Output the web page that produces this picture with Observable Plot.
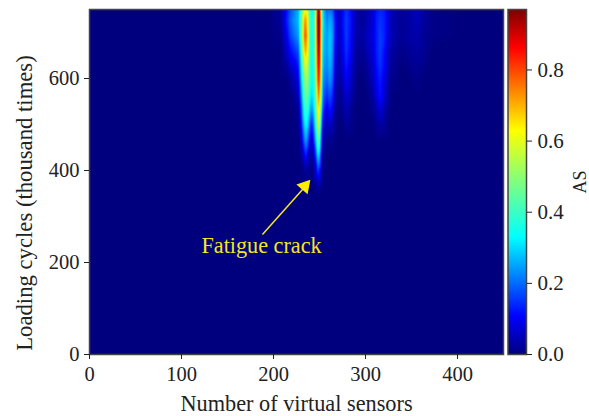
<!DOCTYPE html>
<html><head><meta charset="utf-8">
<script src="https://cdn.jsdelivr.net/npm/d3@7"></script>
<script src="https://cdn.jsdelivr.net/npm/@observablehq/plot@0.6"></script>
<style>
html,body{margin:0;padding:0;background:#fff}
#c{position:relative;width:589px;height:416px;overflow:hidden}
#c svg{position:absolute;left:0;top:0;background:transparent}
</style></head><body><div id="c"></div>
<script>
const sensors=[208,214,218,223,227,230,233,235,237,239,241,243,246,248,250,252,254,258,261,264,267,271,275,279,284,288,292,297,301,308,312,316,321,325,329,338,349,355,362,371];
const as750=[.02,.11,.17,.22,.26,.40,.58,.62,.55,.42,.33,.35,.50,.93,.93,.55,.28,.19,.21,.19,.10,.05,.10,.15,.11,.05,.03,.02,.03,.07,.12,.14,.12,.07,.04,.02,.03,.05,.03,.01];
const as726=[.02,.12,.19,.24,.27,.43,.68,.74,.62,.46,.35,.36,.55,.97,.97,.60,.30,.22,.26,.23,.12,.05,.11,.16,.12,.05,.03,.02,.04,.07,.13,.15,.13,.07,.04,.02,.03,.05,.03,.01];
const as693=[.01,.09,.16,.21,.24,.43,.72,.80,.66,.46,.34,.36,.55,.95,.96,.58,.29,.24,.29,.25,.12,.05,.10,.16,.11,.05,.03,.03,.05,.08,.13,.16,.13,.07,.04,.02,.03,.04,.02,.01];
const as661=[0,.06,.11,.15,.18,.38,.64,.72,.62,.46,.34,.36,.54,.90,.92,.56,.28,.24,.29,.24,.10,.04,.09,.15,.10,.04,.02,.02,.04,.07,.13,.16,.11,.05,.03,.01,.02,.03,.02,0];
const as628=[0,.02,.06,.09,.13,.32,.54,.60,.55,.44,.33,.35,.52,.85,.87,.54,.26,.22,.27,.22,.08,.03,.07,.13,.08,.03,.01,.01,.02,.06,.12,.15,.10,.04,.02,0,.01,.02,.01,0];
const as596=[0,0,.02,.05,.08,.27,.46,.52,.50,.42,.33,.34,.50,.80,.82,.50,.23,.19,.24,.19,.06,.02,.05,.10,.06,.02,0,0,.01,.05,.10,.13,.08,.03,.01,0,0,.01,0,0];
const as563=[0,0,0,.02,.05,.21,.40,.46,.44,.38,.30,.32,.46,.72,.74,.44,.19,.14,.18,.14,.04,.01,.03,.07,.04,.01,0,0,0,.03,.08,.12,.06,.02,0,0,0,0,0,0];
const as530=[0,0,0,0,.02,.15,.34,.40,.38,.30,.22,.26,.42,.62,.64,.36,.13,.08,.12,.09,.02,0,.02,.04,.02,0,0,0,0,.01,.04,.07,.03,.01,0,0,0,0,0,0];
const as498=[0,0,0,0,.01,.10,.27,.33,.30,.20,.12,.18,.36,.55,.55,.26,.07,.04,.06,.04,.01,0,0,.02,.01,0,0,0,0,0,.02,.03,.02,0,0,0,0,0,0,0];
const as465=[0,0,0,0,0,.05,.18,.25,.20,.10,.05,.10,.28,.42,.42,.17,.03,.01,.02,.01,0,0,0,0,0,0,0,0,0,0,0,0,0,0,0,0,0,0,0,0];
const as433=[0,0,0,0,0,.02,.08,.13,.09,.03,.01,.04,.16,.30,.28,.08,.01,0,0,0,0,0,0,0,0,0,0,0,0,0,0,0,0,0,0,0,0,0,0,0];
const as400=[0,0,0,0,0,0,.01,.03,.02,.01,0,.01,.07,.15,.13,.03,0,0,0,0,0,0,0,0,0,0,0,0,0,0,0,0,0,0,0,0,0,0,0,0];
const as367=[0,0,0,0,0,0,0,0,0,0,0,0,.01,.03,.03,.01,0,0,0,0,0,0,0,0,0,0,0,0,0,0,0,0,0,0,0,0,0,0,0,0];
const as345=sensors.map(()=>0);
const as0=sensors.map(()=>0);
const cycles=[750,726,693,661,628,596,563,530,498,465,433,400,367,345,0];
const rows=[as750,as726,as693,as661,as628,as596,as563,as530,as498,as465,as433,as400,as367,as345,as0];
const jetDomain=[0,.107,.33,.485,.63,.863,.97];
const jetRange=["#00007f","#0000ff","#00ffff","#7fff7f","#ffff00","#ff0000","#7f0000"];
const xTicks=[0,100,200,300,400];
const yTicks=[0,200,400,600];
const cTicks=[0,.2,.4,.6,.8];
const arrowLine=[{x1:188,y1:261,x2:234,y2:364}];
const arrowHead=[{x:234,y:366}];
const note=[{x:187,y:237,t:"Fatigue crack"}];

const table=[];
for(const [j,c] of cycles.entries()){
  for(const [i,s] of sensors.entries()) table.push({s,c,v:rows[j][i]});
  table.push({s:0,c,v:0},{s:195,c,v:0},{s:400,c,v:0},{s:450,c,v:0});
}
const font='"Liberation Serif","Times New Roman",serif';
const colorScale={type:"linear",domain:jetDomain,range:jetRange,interpolate:"rgb",clamp:true};
const ink="#222";
const main=Plot.plot({
  width:589,height:416,marginLeft:89,marginRight:86,marginTop:9,marginBottom:62,
  style:{fontFamily:font,background:"transparent",color:ink},
  x:{domain:[0,450]},y:{domain:[0,750]},color:colorScale,
  marks:[
    Plot.frame({fill:"#00007f"}),
    Plot.raster(table,{x:"s",y:"c",fill:"v",interpolate:"barycentric",x1:0,x2:450,y1:0,y2:750,pixelSize:1}),
    Plot.link(arrowLine,{x1:"x1",y1:"y1",x2:"x2",y2:"y2",stroke:"#f7e81a",strokeWidth:1.5}),
    Plot.dot(arrowHead,{x:"x",y:"y",symbol:"triangle",r:5.5,fill:"#ffee00",rotate:41}),
    Plot.text(note,{x:"x",y:"y",text:"t",fill:"#f5e71c",fontSize:22.2}),
    Plot.frame({stroke:"#444",strokeWidth:1.5}),
    Plot.axisX({ticks:xTicks,tickSize:5,tickPadding:7,fontSize:20.5,label:null,stroke:ink}),
    Plot.axisY({ticks:yTicks,tickSize:5,tickPadding:5,fontSize:20.5,label:null,stroke:ink}),
    Plot.text(["Number of virtual sensors"],{frameAnchor:"bottom",dy:49,lineAnchor:"middle",textAnchor:"middle",fontSize:22.3,fill:ink}),
    Plot.text(["Loading cycles (thousand times)"],{frameAnchor:"left",dx:-65,dy:21,rotate:-90,textAnchor:"middle",fontSize:22.7,fill:ink})
  ]
});
const bar=Plot.plot({
  width:589,height:416,marginLeft:507.5,marginRight:63,marginTop:9,marginBottom:62,
  style:{fontFamily:font,background:"transparent",color:ink},
  x:{domain:[0,1],axis:null},y:{domain:[0,.97]},color:colorScale,
  marks:[
    Plot.raster({fill:(x,y)=>y,x1:0,x2:1,y1:0,y2:.97,pixelSize:1}),
    Plot.frame({stroke:"#444",strokeWidth:1.5}),
    Plot.axisY({anchor:"right",ticks:cTicks,tickFormat:d3.format(".1f"),tickSize:5,tickPadding:6,fontSize:21,label:null,stroke:ink}),
    Plot.text(["AS"],{frameAnchor:"right",dx:54,rotate:-90,textAnchor:"middle",fontSize:18,fill:ink})
  ]
});
document.getElementById("c").append(main,bar);
</script></body></html>
